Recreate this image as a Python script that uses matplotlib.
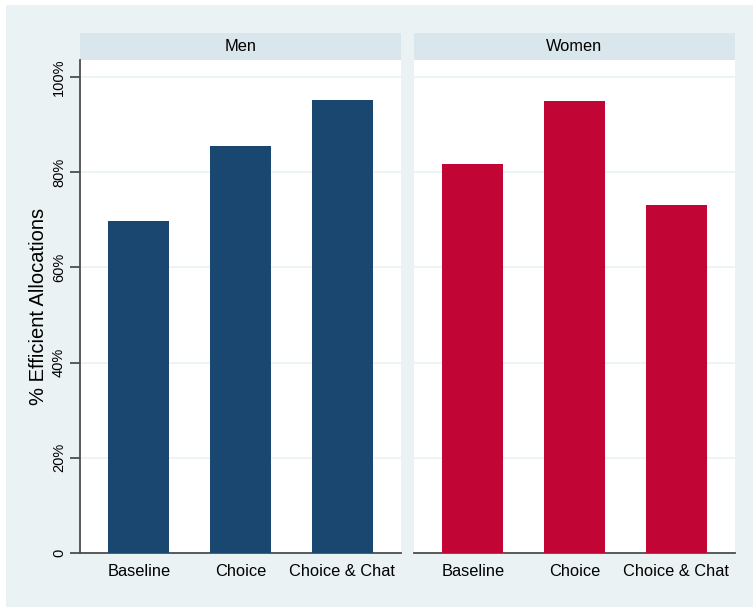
import numpy as np
import matplotlib.pyplot as plt
from matplotlib.patches import Rectangle

# Datos
groups = ["Men", "Women"]
treatments = ["Baseline", "Choice", "Choice & Chat"]
men_pct = [69.8, 85.6, 95.1]
women_pct = [81.8, 95.0, 73.2]
values = [men_pct, women_pct]
bar_colors = ["#1A476F", "#C10534"]

yticks = [0, 20, 40, 60, 80, 100]
ytick_labels = ["0", "20%", "40%", "60%", "80%", "100%"]

W, H = 753, 607
plt.rcParams['font.family'] = ['Liberation Sans', 'DejaVu Sans']
fig = plt.figure(figsize=(W / 100, H / 100), dpi=100, facecolor="white")

# fondo estilo Stata
fig.patches.append(Rectangle((6 / W, 0), 1 - 6 / W, 1 - 5 / H, transform=fig.transFigure,
                             facecolor="#EAF2F3", edgecolor="none", zorder=-10))

bottom = 1 - 553 / H
height = (553 - 60) / H
lefts = [80 / W, 414 / W]
width = 321 / W
strip_h = (60 - 33) / (553 - 60)

x = np.arange(len(treatments))
for i, (grp, vals) in enumerate(zip(groups, values)):
    ax = fig.add_axes([lefts[i], bottom, width, height])
    ax.set_facecolor("white")
    ax.bar(x, vals, width=0.6, color=bar_colors[i], zorder=3)
    ax.set_xlim(-0.58, 2.58)
    ax.set_ylim(0, 103.6)
    ax.set_yticks(yticks)
    ax.grid(axis="y", color="#EAF2F3", linewidth=1.2, zorder=1)
    ax.set_xticks(x)
    ax.set_xticklabels(treatments, fontsize=11.8)
    ax.tick_params(axis="x", length=0, pad=8)
    for s in ["top", "right"]:
        ax.spines[s].set_visible(False)
    ax.spines["bottom"].set_color("#4D4D4D")
    ax.spines["bottom"].set_linewidth(1.3)
    if i == 0:
        ax.set_yticklabels(ytick_labels, rotation=90, va="center", fontsize=10.5)
        ax.tick_params(axis="y", length=7, width=1.3, color="#4D4D4D", pad=3)
        ax.spines["left"].set_color("#4D4D4D")
        ax.spines["left"].set_linewidth(1.3)
        ax.set_ylabel("% Efficient Allocations", fontsize=14.5, labelpad=3)
    else:
        ax.spines["left"].set_visible(False)
        ax.tick_params(axis="y", left=False, labelleft=False)
    # franja del panel
    ax.add_patch(Rectangle((0, 1), 1, strip_h, transform=ax.transAxes, facecolor="#D9E6EB",
                           edgecolor="none", clip_on=False))
    ax.text(0.5, 1 + strip_h / 2, grp, transform=ax.transAxes, ha="center", va="center",
            fontsize=11.8)

fig.savefig("out.png", dpi=100, facecolor=fig.get_facecolor())
